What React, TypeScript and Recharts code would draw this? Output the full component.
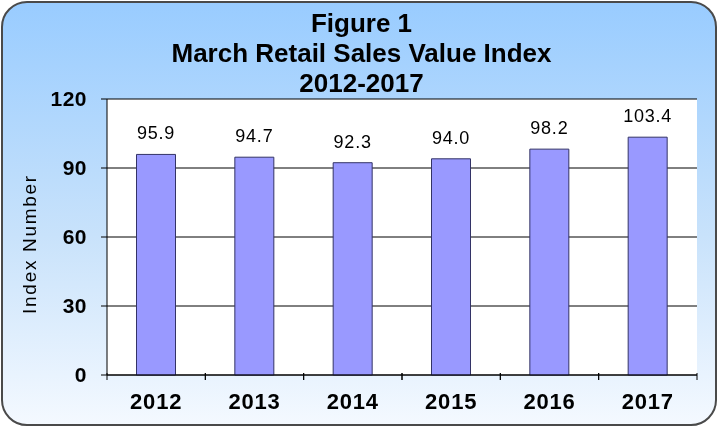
import { BarChart, Bar, XAxis, YAxis, CartesianGrid, LabelList } from 'recharts';

const years = ['2012', '2013', '2014', '2015', '2016', '2017'];
const indexValues = [95.9, 94.7, 92.3, 94.0, 98.2, 103.4];
const yTicks = [0, 30, 60, 90, 120];

const data = years.map((year, i) => ({ year, value: indexValues[i] }));

const W = 723;
const H = 430;
const Y_AXIS_W = 80;
const X_AXIS_H = 45;
const margin = { top: 99, right: 26, bottom: 55 - X_AXIS_H, left: 107 - Y_AXIS_W };
const band = (W - 107 - margin.right) / years.length;
const font = 'Liberation Sans, Arial, sans-serif';

// year label at centre, tick marks at the category boundaries
function YearTick(props: any) {
  const { x, y, payload } = props;
  const axisY = y - 10;
  return (
    <g>
      <line x1={x - band / 2} x2={x - band / 2} y1={axisY} y2={axisY + 7} stroke="#000" />
      <line x1={x + band / 2} x2={x + band / 2} y1={axisY} y2={axisY + 7} stroke="#000" />
      <text x={x} y={axisY + 36} textAnchor="middle" fontSize={22} fontWeight="bold" fill="#000"
        fontFamily={font} letterSpacing={0.8}>
        {payload.value}
      </text>
    </g>
  );
}

function YLabel(props: any) {
  const { viewBox } = props;
  const cx = 29;
  const cy = viewBox.y + viewBox.height / 2 + 7;
  return (
    <text x={cx} y={cy} transform={`rotate(-90 ${cx} ${cy})`} textAnchor="middle" dominantBaseline="central"
      fontSize={19} fill="#000" fontFamily={font} letterSpacing={1.7}>
      Index Number
    </text>
  );
}

function ValueLabel(props: any) {
  const { x, y, width, value } = props;
  return (
    <text x={x + width / 2} y={y - 15} textAnchor="middle" fontSize={18} fill="#000"
      fontFamily={font} letterSpacing={0.8}>
      {Number(value).toFixed(1)}
    </text>
  );
}

export default function App() {
  return (
    <div style={{ position: 'fixed', left: 0, top: 0, width: W, height: H }}>
      <div
        style={{
          position: 'absolute',
          left: 1,
          top: 1,
          width: W - 7,
          height: H - 5,
          border: '2px solid #4a4a4a',
          borderRadius: 26,
          background: 'linear-gradient(to bottom, #99ccff 0%, #c8e2fb 55%, #f4f9ff 100%)',
          boxSizing: 'border-box',
        }}
      />
      <div
        style={{
          position: 'absolute',
          left: 0,
          top: 8,
          width: W,
          textAlign: 'center',
          fontFamily: font,
          fontWeight: 'bold',
          fontSize: 26,
          lineHeight: '30px',
          color: '#000',
        }}
      >
        <div>Figure 1</div>
        <div>March Retail Sales Value Index</div>
        <div>2012-2017</div>
      </div>
      <div style={{ position: 'absolute', left: 0, top: 0 }}>
        <BarChart width={W} height={H} data={data} margin={margin} barCategoryGap="30%">
          <CartesianGrid vertical={false} stroke="#000" fill="#fff" />
          <XAxis
            dataKey="year"
            height={X_AXIS_H}
            tickLine={false}
            axisLine={{ stroke: '#000' }}
            tick={<YearTick />}
            interval={0}
          />
          <YAxis
            width={Y_AXIS_W}
            domain={[0, 120]}
            ticks={yTicks}
            interval={0}
            tickSize={6}
            tickLine={{ stroke: '#000' }}
            axisLine={{ stroke: '#000' }}
            tick={{ fontSize: 21, fontWeight: 'bold', fill: '#000', fontFamily: font, letterSpacing: 0.5 }}
            tickMargin={14}
            label={<YLabel />}
          />
          <Bar dataKey="value" fill="#9999ff" stroke="#333366" strokeWidth={1} isAnimationActive={false}>
            <LabelList dataKey="value" content={<ValueLabel />} />
          </Bar>
        </BarChart>
      </div>
    </div>
  );
}
